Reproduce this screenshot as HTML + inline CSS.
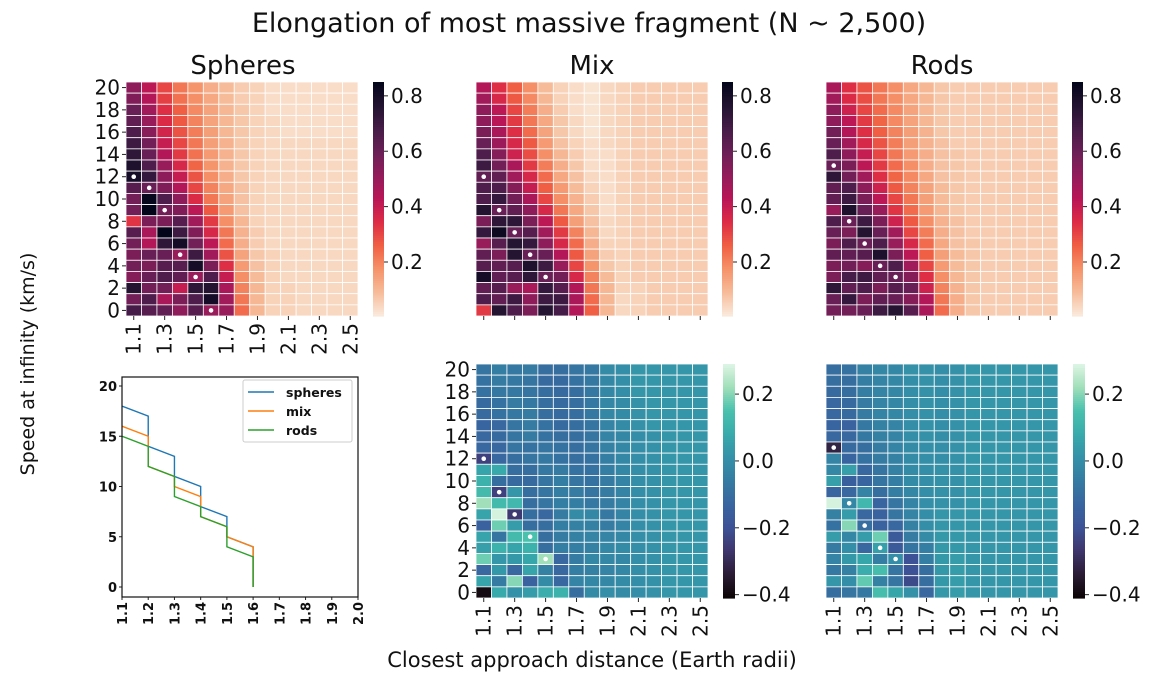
<!DOCTYPE html>
<html><head><meta charset="utf-8"><style>
html,body{margin:0;padding:0;background:#fff;}
svg{display:block;font-family:"DejaVu Sans","Liberation Sans",sans-serif;}
</style></head><body>
<svg id="fig" width="1157" height="673" viewBox="0 0 1157 673" xmlns="http://www.w3.org/2000/svg">
<text x="589" y="32" font-size="27" text-anchor="middle" fill="#111">Elongation of most massive fragment (N ~ 2,500)</text>
<text x="243" y="74" font-size="26" text-anchor="middle" fill="#111">Spheres</text>
<text x="592" y="74" font-size="26" text-anchor="middle" fill="#111">Mix</text>
<text x="942" y="74" font-size="26" text-anchor="middle" fill="#111">Rods</text>
<text transform="translate(34,364) rotate(-90)" font-size="19" text-anchor="middle" fill="#111">Speed at infinity (km/s)</text>
<text x="592" y="667" font-size="21" text-anchor="middle" fill="#111">Closest approach distance (Earth radii)</text>
</svg>
<script>
const distances=["1.1","1.2","1.3","1.4","1.5","1.6","1.7","1.8","1.9","2.0","2.1","2.2","2.3","2.4","2.5"];
const speeds=[20,19,18,17,16,15,14,13,12,11,10,9,8,7,6,5,4,3,2,1,0];
const spheresVals=[
[0.52,0.42,0.30,0.22,0.17,0.12,0.09,0.06,0.05,0.03,0.03,0.03,0.03,0.03,0.03],
[0.55,0.44,0.31,0.23,0.18,0.13,0.09,0.06,0.05,0.03,0.03,0.03,0.03,0.03,0.03],
[0.60,0.48,0.34,0.26,0.19,0.14,0.10,0.07,0.05,0.03,0.03,0.03,0.03,0.03,0.03],
[0.62,0.50,0.35,0.27,0.20,0.14,0.10,0.07,0.05,0.04,0.03,0.03,0.03,0.03,0.03],
[0.66,0.53,0.37,0.28,0.21,0.15,0.10,0.07,0.05,0.04,0.03,0.03,0.03,0.03,0.03],
[0.70,0.58,0.40,0.30,0.22,0.15,0.11,0.07,0.05,0.04,0.04,0.04,0.04,0.04,0.04],
[0.74,0.60,0.44,0.32,0.23,0.16,0.11,0.07,0.05,0.04,0.04,0.04,0.04,0.04,0.04],
[0.78,0.66,0.50,0.36,0.25,0.17,0.11,0.07,0.05,0.04,0.04,0.04,0.04,0.04,0.04],
[0.80,0.72,0.52,0.40,0.28,0.18,0.12,0.07,0.05,0.04,0.04,0.04,0.04,0.04,0.04],
[0.64,0.60,0.55,0.44,0.30,0.20,0.13,0.08,0.05,0.04,0.04,0.04,0.04,0.04,0.04],
[0.58,0.84,0.66,0.52,0.35,0.22,0.14,0.08,0.05,0.04,0.04,0.04,0.04,0.04,0.04],
[0.58,0.86,0.58,0.55,0.42,0.27,0.16,0.08,0.05,0.04,0.04,0.04,0.04,0.04,0.04],
[0.33,0.56,0.56,0.64,0.48,0.32,0.18,0.10,0.05,0.04,0.04,0.04,0.04,0.04,0.04],
[0.64,0.46,0.85,0.70,0.55,0.36,0.22,0.11,0.06,0.04,0.04,0.04,0.04,0.04,0.04],
[0.58,0.44,0.74,0.80,0.58,0.42,0.24,0.12,0.06,0.04,0.04,0.04,0.04,0.04,0.04],
[0.56,0.60,0.60,0.50,0.70,0.48,0.28,0.14,0.07,0.05,0.04,0.04,0.04,0.04,0.04],
[0.58,0.56,0.64,0.64,0.80,0.56,0.34,0.16,0.08,0.05,0.04,0.04,0.04,0.04,0.04],
[0.54,0.60,0.66,0.62,0.50,0.66,0.40,0.18,0.09,0.05,0.04,0.04,0.04,0.04,0.04],
[0.76,0.58,0.58,0.40,0.74,0.76,0.46,0.20,0.10,0.05,0.05,0.04,0.04,0.04,0.04],
[0.58,0.66,0.46,0.56,0.66,0.80,0.48,0.22,0.10,0.05,0.05,0.04,0.04,0.04,0.04],
[0.68,0.64,0.62,0.52,0.64,0.50,0.50,0.24,0.10,0.05,0.05,0.04,0.04,0.04,0.04]];
const mixVals=[
[0.44,0.34,0.26,0.18,0.09,0.05,0.03,0.02,0.04,0.05,0.06,0.06,0.06,0.06,0.06],
[0.48,0.36,0.27,0.19,0.10,0.05,0.03,0.02,0.04,0.05,0.06,0.06,0.06,0.06,0.06],
[0.52,0.42,0.30,0.21,0.12,0.06,0.03,0.02,0.04,0.05,0.06,0.06,0.06,0.06,0.06],
[0.52,0.43,0.32,0.22,0.13,0.07,0.04,0.02,0.04,0.05,0.06,0.06,0.06,0.06,0.06],
[0.56,0.46,0.34,0.24,0.14,0.07,0.04,0.02,0.04,0.05,0.06,0.06,0.06,0.06,0.06],
[0.60,0.49,0.36,0.27,0.16,0.08,0.05,0.03,0.04,0.05,0.06,0.06,0.06,0.06,0.06],
[0.66,0.54,0.38,0.29,0.18,0.10,0.06,0.03,0.03,0.05,0.06,0.06,0.06,0.06,0.06],
[0.70,0.58,0.46,0.32,0.21,0.12,0.07,0.03,0.03,0.05,0.06,0.06,0.06,0.06,0.06],
[0.62,0.62,0.48,0.36,0.24,0.13,0.08,0.04,0.03,0.05,0.06,0.06,0.06,0.06,0.06],
[0.66,0.66,0.54,0.40,0.26,0.16,0.09,0.05,0.03,0.05,0.06,0.06,0.06,0.06,0.06],
[0.66,0.72,0.58,0.46,0.30,0.18,0.11,0.06,0.03,0.05,0.06,0.06,0.06,0.06,0.06],
[0.76,0.60,0.62,0.52,0.36,0.22,0.13,0.07,0.03,0.05,0.06,0.06,0.06,0.06,0.06],
[0.56,0.74,0.74,0.56,0.42,0.27,0.15,0.08,0.04,0.05,0.06,0.06,0.06,0.06,0.06],
[0.72,0.82,0.60,0.64,0.48,0.32,0.20,0.10,0.04,0.05,0.06,0.06,0.06,0.06,0.06],
[0.50,0.64,0.76,0.72,0.52,0.36,0.24,0.12,0.05,0.05,0.06,0.06,0.06,0.06,0.06],
[0.62,0.56,0.76,0.60,0.60,0.44,0.27,0.14,0.06,0.05,0.06,0.06,0.06,0.06,0.06],
[0.64,0.62,0.64,0.78,0.70,0.50,0.30,0.17,0.07,0.05,0.06,0.06,0.06,0.06,0.06],
[0.80,0.62,0.64,0.74,0.60,0.58,0.36,0.20,0.09,0.05,0.06,0.06,0.06,0.06,0.06],
[0.62,0.64,0.50,0.46,0.72,0.64,0.44,0.22,0.10,0.05,0.05,0.06,0.06,0.06,0.06],
[0.66,0.62,0.70,0.52,0.70,0.70,0.46,0.24,0.10,0.04,0.05,0.06,0.06,0.06,0.06],
[0.32,0.76,0.66,0.56,0.76,0.68,0.44,0.26,0.10,0.04,0.05,0.06,0.06,0.06,0.06]];
const rodsVals=[
[0.46,0.34,0.28,0.22,0.18,0.13,0.10,0.07,0.06,0.06,0.06,0.06,0.06,0.06,0.06],
[0.48,0.35,0.29,0.22,0.18,0.13,0.10,0.07,0.06,0.06,0.06,0.06,0.06,0.06,0.06],
[0.52,0.38,0.30,0.24,0.19,0.14,0.10,0.07,0.06,0.06,0.06,0.06,0.06,0.06,0.06],
[0.52,0.42,0.32,0.25,0.19,0.14,0.10,0.07,0.06,0.06,0.06,0.06,0.06,0.06,0.06],
[0.58,0.44,0.34,0.26,0.20,0.15,0.11,0.07,0.06,0.06,0.06,0.06,0.06,0.06,0.06],
[0.60,0.48,0.36,0.28,0.21,0.15,0.11,0.08,0.06,0.06,0.06,0.06,0.06,0.06,0.06],
[0.66,0.52,0.40,0.30,0.22,0.16,0.12,0.08,0.07,0.06,0.06,0.06,0.06,0.06,0.06],
[0.60,0.56,0.42,0.32,0.24,0.18,0.12,0.08,0.07,0.06,0.06,0.06,0.06,0.06,0.06],
[0.74,0.58,0.48,0.34,0.25,0.19,0.13,0.08,0.07,0.06,0.06,0.06,0.06,0.06,0.06],
[0.62,0.66,0.52,0.38,0.27,0.20,0.14,0.09,0.07,0.06,0.06,0.06,0.06,0.06,0.06],
[0.62,0.70,0.56,0.42,0.30,0.22,0.15,0.09,0.07,0.06,0.06,0.06,0.06,0.06,0.06],
[0.50,0.78,0.60,0.50,0.33,0.24,0.16,0.10,0.07,0.06,0.06,0.06,0.06,0.06,0.06],
[0.66,0.60,0.70,0.56,0.38,0.27,0.18,0.11,0.08,0.06,0.06,0.06,0.06,0.06,0.06],
[0.60,0.56,0.76,0.60,0.48,0.30,0.21,0.12,0.08,0.06,0.06,0.06,0.06,0.06,0.06],
[0.56,0.66,0.60,0.66,0.50,0.36,0.24,0.13,0.08,0.07,0.06,0.06,0.06,0.06,0.06],
[0.62,0.62,0.64,0.78,0.56,0.42,0.26,0.15,0.09,0.07,0.06,0.06,0.06,0.06,0.06],
[0.56,0.58,0.54,0.60,0.66,0.48,0.30,0.16,0.09,0.07,0.06,0.06,0.06,0.06,0.06],
[0.56,0.68,0.70,0.62,0.60,0.54,0.34,0.18,0.10,0.07,0.06,0.06,0.06,0.06,0.06],
[0.74,0.62,0.66,0.56,0.64,0.60,0.38,0.20,0.11,0.07,0.06,0.06,0.06,0.06,0.06],
[0.60,0.72,0.56,0.62,0.60,0.54,0.44,0.22,0.12,0.07,0.06,0.06,0.06,0.06,0.06],
[0.58,0.58,0.60,0.70,0.76,0.64,0.46,0.24,0.12,0.07,0.06,0.06,0.06,0.06,0.06]];
const mixDiffVals=[
[-0.08,-0.05,-0.07,-0.06,-0.10,-0.10,-0.08,-0.07,-0.01,0.00,0.02,0.02,0.02,0.02,0.02],
[-0.09,-0.06,-0.07,-0.08,-0.11,-0.11,-0.09,-0.07,-0.02,0.00,0.02,0.02,0.02,0.02,0.02],
[-0.09,-0.07,-0.07,-0.08,-0.10,-0.11,-0.10,-0.07,-0.02,0.00,0.02,0.02,0.02,0.02,0.02],
[-0.11,-0.09,-0.06,-0.07,-0.10,-0.11,-0.10,-0.07,-0.02,-0.01,0.01,0.02,0.02,0.02,0.02],
[-0.11,-0.09,-0.07,-0.06,-0.10,-0.11,-0.10,-0.07,-0.02,-0.01,0.01,0.02,0.02,0.02,0.02],
[-0.13,-0.12,-0.08,-0.06,-0.09,-0.11,-0.10,-0.08,-0.03,-0.01,0.01,0.02,0.02,0.02,0.02],
[-0.12,-0.11,-0.08,-0.06,-0.09,-0.10,-0.10,-0.08,-0.03,-0.02,0.00,0.01,0.02,0.02,0.02],
[-0.12,-0.12,-0.08,-0.09,-0.08,-0.09,-0.10,-0.08,-0.04,-0.02,0.00,0.01,0.02,0.02,0.02],
[-0.24,-0.12,-0.10,-0.08,-0.07,-0.09,-0.10,-0.09,-0.05,-0.02,0.00,0.01,0.02,0.02,0.02],
[0.06,0.08,-0.10,-0.10,-0.07,-0.06,-0.09,-0.09,-0.05,-0.02,0.00,0.01,0.02,0.02,0.02],
[0.10,-0.10,-0.11,-0.11,-0.08,-0.05,-0.08,-0.09,-0.06,-0.03,0.00,0.01,0.02,0.02,0.02],
[0.13,-0.24,0.02,-0.10,-0.08,-0.05,-0.06,-0.08,-0.06,-0.03,0.00,0.01,0.02,0.02,0.02],
[0.22,0.13,0.12,-0.10,-0.08,-0.05,-0.05,-0.07,-0.06,-0.03,0.00,0.01,0.02,0.02,0.02],
[0.06,0.28,-0.26,-0.10,-0.12,-0.06,-0.01,-0.02,-0.07,-0.03,0.00,0.01,0.02,0.02,0.02],
[-0.14,0.18,0.04,-0.10,-0.10,-0.05,-0.04,-0.04,-0.06,-0.03,0.00,0.01,0.02,0.02,0.02],
[0.06,-0.08,0.13,0.15,-0.10,-0.06,-0.04,-0.03,-0.03,-0.02,0.00,0.01,0.02,0.02,0.02],
[0.05,0.10,0.06,0.10,-0.10,-0.05,-0.05,-0.04,-0.02,-0.01,0.00,0.01,0.02,0.02,0.02],
[0.18,0.02,0.03,0.07,0.22,-0.12,-0.06,-0.02,-0.02,-0.02,0.00,0.01,0.02,0.02,0.02],
[-0.12,0.03,-0.12,0.06,-0.04,-0.12,-0.05,-0.04,-0.03,-0.02,0.00,0.01,0.02,0.02,0.02],
[0.06,-0.06,0.20,-0.14,-0.01,-0.12,-0.03,-0.02,-0.02,-0.01,0.00,0.01,0.02,0.02,0.02],
[-0.39,0.08,0.01,0.04,0.09,0.10,-0.10,-0.01,0.00,-0.01,0.00,0.01,0.02,0.02,0.02]];
const rodsDiffVals=[
[-0.10,-0.09,-0.04,-0.02,-0.02,0.01,0.01,0.00,0.01,0.02,0.02,0.02,0.02,0.02,0.02],
[-0.10,-0.10,-0.05,-0.03,-0.02,0.00,0.01,0.00,0.01,0.02,0.02,0.02,0.02,0.02,0.02],
[-0.11,-0.10,-0.05,-0.03,-0.02,0.00,0.01,0.00,0.01,0.02,0.02,0.02,0.02,0.02,0.02],
[-0.12,-0.11,-0.06,-0.03,-0.02,0.00,0.01,0.00,0.01,0.02,0.02,0.02,0.02,0.02,0.02],
[-0.12,-0.11,-0.06,-0.03,-0.02,0.00,0.01,0.00,0.01,0.02,0.02,0.02,0.02,0.02,0.02],
[-0.13,-0.14,-0.07,-0.04,-0.03,0.00,0.01,0.00,0.01,0.02,0.02,0.02,0.02,0.02,0.02],
[-0.12,-0.12,-0.07,-0.04,-0.03,0.00,0.01,0.00,0.01,0.02,0.02,0.02,0.02,0.02,0.02],
[-0.32,-0.11,-0.10,-0.06,-0.03,-0.01,0.00,0.00,0.01,0.02,0.02,0.02,0.02,0.02,0.02],
[-0.03,-0.13,-0.09,-0.06,-0.04,-0.01,0.00,0.00,0.01,0.02,0.02,0.02,0.02,0.02,0.02],
[-0.02,0.05,-0.12,-0.08,-0.04,-0.01,0.00,0.01,0.01,0.02,0.02,0.02,0.02,0.02,0.02],
[0.05,-0.15,-0.13,-0.08,-0.05,-0.01,0.00,0.01,0.01,0.02,0.02,0.02,0.02,0.02,0.02],
[-0.13,-0.12,-0.03,-0.10,-0.05,-0.02,0.00,0.01,0.01,0.02,0.02,0.02,0.02,0.02,0.02],
[0.28,-0.02,0.12,-0.13,-0.08,-0.03,0.00,0.01,0.01,0.02,0.02,0.02,0.02,0.02,0.02],
[-0.04,0.04,-0.12,-0.14,-0.08,-0.03,0.00,0.02,0.02,0.02,0.02,0.02,0.02,0.02,0.02],
[-0.09,0.20,-0.10,-0.14,-0.12,-0.04,0.00,0.02,0.02,0.02,0.02,0.02,0.02,0.02,0.02],
[0.04,-0.02,0.04,0.18,-0.17,-0.06,-0.01,0.03,0.03,0.02,0.02,0.02,0.02,0.02,0.02],
[-0.06,0.00,-0.12,0.05,-0.17,-0.08,-0.05,0.03,0.03,0.02,0.02,0.02,0.02,0.02,0.02],
[-0.03,0.03,0.07,-0.05,0.00,-0.20,-0.05,0.03,0.04,0.02,0.02,0.02,0.02,0.02,0.02],
[-0.07,-0.04,0.09,0.14,-0.08,-0.20,-0.10,0.03,0.04,0.02,0.02,0.02,0.02,0.02,0.02],
[0.02,0.00,0.17,-0.04,-0.08,-0.22,-0.10,0.03,0.04,0.02,0.02,0.02,0.02,0.02,0.02],
[-0.10,-0.08,-0.07,0.14,0.07,0.01,-0.12,0.03,0.04,0.02,0.02,0.02,0.02,0.02,0.02]];
const spheresMarks=[[0,12],[1,11],[2,9],[3,5],[4,3],[5,0]];
const mixMarks=[[0,12],[1,9],[2,7],[3,5],[4,3]];
const rodsMarks=[[0,13],[1,8],[2,6],[3,4],[4,3]];
const rocketTicks=[0.2,0.4,0.6,0.8];
const makoTicks=[-0.4,-0.2,0.0,0.2];
const lineX=[1.1,1.2,1.2,1.3,1.3,1.4,1.4,1.5,1.5,1.6,1.6];
const spheresLine=[18,17,14,13,11,10,8,7,5,4,0];
const mixLine=[16,15,12,11,10,9,7,6,5,4,0];
const rodsLine=[15,14,12,11,9,8,7,6,4,3,0];
const lineXTicks=[1.1,1.2,1.3,1.4,1.5,1.6,1.7,1.8,1.9,2.0];
const lineYTicks=[0,5,10,15,20];

const NS="http://www.w3.org/2000/svg";
const svg=document.getElementById('fig');
function mk(tag,attrs,parent){const e=document.createElementNS(NS,tag);for(const k in attrs)e.setAttribute(k,attrs[k]);(parent||svg).appendChild(e);return e;}
function hex(h){return [parseInt(h.slice(1,3),16),parseInt(h.slice(3,5),16),parseInt(h.slice(5,7),16)];}
const rocket=["#03051a","#221331","#451c47","#6a1f56","#921c5b","#b91657","#dd2c45","#f06043","#f5936a","#f6bc9a","#faebdd"].map(hex);
const mako=["#0b0405","#2b1c35","#3e356b","#3d5296","#38659f","#357ba2","#3491a8","#38aaac","#49c1ad","#a0dfb9","#def5e5"].map(hex);
function cmap(stops,t){t=Math.max(0,Math.min(1,t));const p=t*(stops.length-1);const i=Math.min(Math.floor(p),stops.length-2);const f=p-i;const a=stops[i],b=stops[i+1];return 'rgb('+a.map((v,k)=>Math.round(v+(b[k]-v)*f)).join(',')+')';}
const R_MIN=0.005,R_MAX=0.85,M_MIN=-0.41,M_MAX=0.29;
function rocketColor(v){return cmap(rocket,1-(v-R_MIN)/(R_MAX-R_MIN));}
function makoColor(v){return cmap(mako,(v-M_MIN)/(M_MAX-M_MIN));}

function heatmap(name,vals,marks,x0,y0,w,h,colorFn,yLabels,xLabels){
  const g=mk('g',{});
  
  
  const cw=w/distances.length,ch=h/speeds.length;
  const xs=c=>x0+c*cw, ys=s=>y0+(20-s)*ch;
  vals.forEach((row,r)=>row.forEach((v,c)=>{
    const rc=mk('rect',{x:xs(c),y:ys(speeds[r]),width:cw,height:ch,fill:colorFn(v),stroke:'#fff','stroke-width':0.8},g);
    
    
  }));
  marks.forEach(m=>{
    const d=mk('circle',{cx:xs(m[0])+cw/2,cy:ys(m[1])+ch/2,r:2.3,fill:'#fff'},g);
    
    
  });
  if(yLabels){speeds.forEach(s=>{if(s%2)return;const y=ys(s)+ch/2;
    mk('line',{x1:x0-4,x2:x0,y1:y,y2:y,stroke:'#222','stroke-width':1},g);
    const t=mk('text',{x:x0-6,y:y+7,'font-size':20,'text-anchor':'end',fill:'#111'},g);t.textContent=s;
    
    });}
  distances.forEach((d,c)=>{if(c%2)return;const x=xs(c)+cw/2;
    mk('line',{x1:x,x2:x,y1:y0+h,y2:y0+h+4,stroke:'#222','stroke-width':1},g);
    if(xLabels){const t=mk('text',{transform:`translate(${x+7},${y0+h+7}) rotate(-90)`,'font-size':20,'text-anchor':'end',fill:'#111'},g);t.textContent=d;
      
      }
  });
}
function colorbar(name,x0,y0,w,h,vmin,vmax,colorFn,ticks,fmt){
  const g=mk('g',{});
  
  
  const n=120;
  for(let i=0;i<n;i++){const v=vmax-(i+0.5)/n*(vmax-vmin);mk('rect',{x:x0,y:y0+i*h/n,width:w,height:h/n+0.6,fill:colorFn(v)},g);}
  ticks.forEach(tv=>{const y=y0+(vmax-tv)/(vmax-vmin)*h;
    mk('line',{x1:x0+w,x2:x0+w+4,y1:y,y2:y,stroke:'#222','stroke-width':1},g);
    const t=mk('text',{x:x0+w+7,y:y+7,'font-size':20,fill:'#111'},g);t.textContent=fmt(tv);
    
    });
}
const f1=v=>v.toFixed(1), f2=v=>(v<0?'\u2212':'')+Math.abs(v).toFixed(1);
heatmap('spheres-heatmap',spheresVals,spheresMarks,126,82,232,234,rocketColor,true,true);
heatmap('mix-heatmap',mixVals,mixMarks,476,82,232,234,rocketColor,false,false);
heatmap('rods-heatmap',rodsVals,rodsMarks,826,82,232,234,rocketColor,false,false);
heatmap('mix-difference-heatmap',mixDiffVals,mixMarks,476,364,232,234,makoColor,true,true);
heatmap('rods-difference-heatmap',rodsDiffVals,rodsMarks,826,364,232,234,makoColor,false,true);
colorbar('spheres-colorbar',373,82,11,234,R_MIN,R_MAX,rocketColor,rocketTicks,f1);
colorbar('mix-colorbar',722,82,11,234,R_MIN,R_MAX,rocketColor,rocketTicks,f1);
colorbar('rods-colorbar',1072,82,11,234,R_MIN,R_MAX,rocketColor,rocketTicks,f1);
colorbar('mix-difference-colorbar',723,364,12,234,M_MIN,M_MAX,makoColor,makoTicks,f2);
colorbar('rods-difference-colorbar',1073,364,12,234,M_MIN,M_MAX,makoColor,makoTicks,f2);

(function(){
  const L=122,Rr=358,T=377,B=597;
  const sx=v=>L+(v-1.1)/(2.0-1.1)*(Rr-L);
  const sy=v=>587-v*(587-386)/20;
  const g=mk('g',{});
  
  
  lineYTicks.forEach(v=>{const y=sy(v);mk('line',{x1:L-3,x2:L,y1:y,y2:y,stroke:'#222'},g);
    const t=mk('text',{x:L-5,y:y+5,'font-size':13,'font-weight':'bold','text-anchor':'end',fill:'#111'},g);t.textContent=v;
    
    });
  lineXTicks.forEach(v=>{const x=sx(v);mk('line',{x1:x,x2:x,y1:B,y2:B+3,stroke:'#222'},g);
    const t=mk('text',{transform:`translate(${x+5},${B+5}) rotate(-90)`,'font-size':13,'font-weight':'bold','text-anchor':'end',fill:'#111'},g);t.textContent=v.toFixed(1);
    
    });
  const series=[['spheres',spheresLine,'#1f77b4'],['mix',mixLine,'#ff7f0e'],['rods',rodsLine,'#2ca02c']];
  series.forEach(s=>{const pts=lineX.map((x,i)=>sx(x)+','+sy(s[1][i])).join(' ');
    const p=mk('polyline',{points:pts,fill:'none',stroke:s[2],'stroke-width':1.4},g);
    
    });
  mk('rect',{x:L,y:T,width:Rr-L,height:B-T,fill:'none',stroke:'#111','stroke-width':1.2},g);
  const lg=mk('g',{},g);
  
  
  mk('rect',{x:243,y:380,width:109,height:62,rx:2,fill:'#fff',stroke:'#ccc','stroke-width':1},lg);
  series.forEach((s,i)=>{const y=392+i*19;
    mk('line',{x1:248,x2:274,y1:y,y2:y,stroke:s[2],'stroke-width':1.4},lg);
    const t=mk('text',{x:286,y:y+5,'font-size':12.5,'font-weight':'bold',fill:'#111'},lg);t.textContent=s[0];
    
    });
})();
</script>
</body></html>
